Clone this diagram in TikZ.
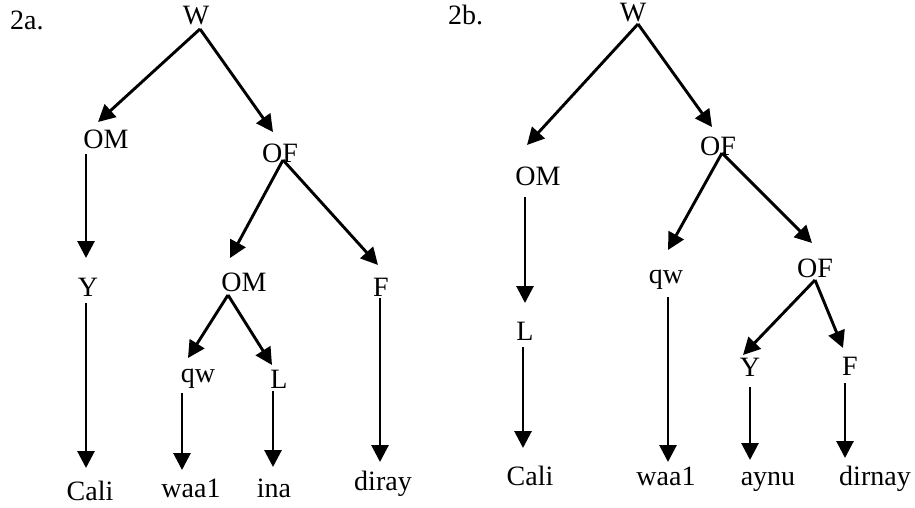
\documentclass[tikz,border=0pt]{standalone}
\usepackage{fontspec}
\setmainfont{Liberation Serif}
\usetikzlibrary{arrows.meta, calc}
\tikzset{
  lbl/.style={anchor=base, inner sep=0pt, font=\fontsize{28}{32}\selectfont},
  tag/.style={lbl, anchor=base west},
  arr/.style={line width=2.9pt, -{Triangle[length=17pt, width=17pt]}}
}
\begin{document}
\begin{tikzpicture}[x=1pt, y=-1pt]
      \useasboundingbox (0,0) rectangle (915,508);
      % 2a
      \node[tag](t1) at (10, 30){2a.};
      \node[lbl](w1) at (196, 25){W};
      \node[lbl](om1) at (106, 149){OM};
      \node[lbl](of1) at (280, 162){OF};
      \node[lbl](y1) at (88, 296){Y};
      \node[lbl](om2) at (244, 291){OM};
      \node[lbl](f1) at (381, 296){F};
      \node[lbl](qw1) at (198, 382){qw};
      \node[lbl](l1) at (279, 388){L};
      \node[lbl](cali1) at (90, 500){Cali};
      \node[lbl](waa1) at (191, 497){waa1};
      \node[lbl](ina) at (274, 497){ina};
      \node[lbl](diray) at (383, 490){diray};

      \draw[arr]($(w1.base)+(4,4)$)--($(om1.base)+(-8,-27)$);
      \draw[arr]($(w1.base)+(4,4)$)--($(of1.base)+(-7,-30)$);
      \draw[arr]($(om1.base)+(-20,5)$)--($(y1.base)+(-2,-38)$);
      \draw[arr]($(of1.base)+(3,-2)$)--($(om2.base)+(-14,-33)$);
      \draw[arr]($(of1.base)+(3,-2)$)--($(f1.base)+(-3,-31)$);
      \draw[arr]($(y1.base)+(-2,7)$)--($(cali1.base)+(-4,-32)$);
      \draw[arr]($(om2.base)+(-16,4)$)--($(qw1.base)+(-10,-24)$);
      \draw[arr]($(om2.base)+(-16,4)$)--($(l1.base)+(-7,-23)$);
      \draw[arr]($(qw1.base)+(-16,11)$)--($(waa1.base)+(-9,-27)$);
      \draw[arr]($(l1.base)+(-6,3)$)--($(ina.base)+(-1,-30)$);
      \draw[arr]($(f1.base)+(-1,2)$)--($(diray.base)+(-3,-28)$);

      % 2b
      \node[tag](t2) at (448, 25){2b.};
      \node[lbl](w2) at (633, 22){W};
      \node[lbl](om3) at (538, 185){OM};
      \node[lbl](of2) at (718, 155){OF};
      \node[lbl](qw2) at (666, 283){qw};
      \node[lbl](of3) at (815, 277){OF};
      \node[lbl](l2) at (525, 340){L};
      \node[lbl](y2) at (750, 376){Y};
      \node[lbl](f2) at (850, 375){F};
      \node[lbl](cali2) at (530, 485){Cali};
      \node[lbl](waa2) at (666, 485){waa1};
      \node[lbl](aynu) at (768, 485){aynu};
      \node[lbl](dirnay) at (875, 485){dirnay};

      \draw[arr]($(w2.base)+(5,2)$)--($(om3.base)+(-11,-40)$);
      \draw[arr]($(w2.base)+(5,2)$)--($(of2.base)+(-6,-28)$);
      \draw[arr]($(om3.base)+(-13,12)$)--($(l2.base)+(0,-37)$);
      \draw[arr]($(of2.base)+(4,-2)$)--($(qw2.base)+(2,-33)$);
      \draw[arr]($(of2.base)+(4,-2)$)--($(of3.base)+(-3,-34)$);
      \draw[arr]($(l2.base)+(-2,7)$)--($(cali2.base)+(-7,-37)$);
      \draw[arr]($(qw2.base)+(2,14)$)--($(waa2.base)+(2,-23)$);
      \draw[arr]($(of3.base)+(0,3)$)--($(y2.base)+(-7,-21)$);
      \draw[arr]($(of3.base)+(0,3)$)--($(f2.base)+(-7,-27)$);
      \draw[arr]($(y2.base)+(0,11)$)--($(aynu.base)+(-18,-25)$);
      \draw[arr]($(f2.base)+(-5,8)$)--($(dirnay.base)+(-30,-27)$);
    \end{tikzpicture}
\end{document}
